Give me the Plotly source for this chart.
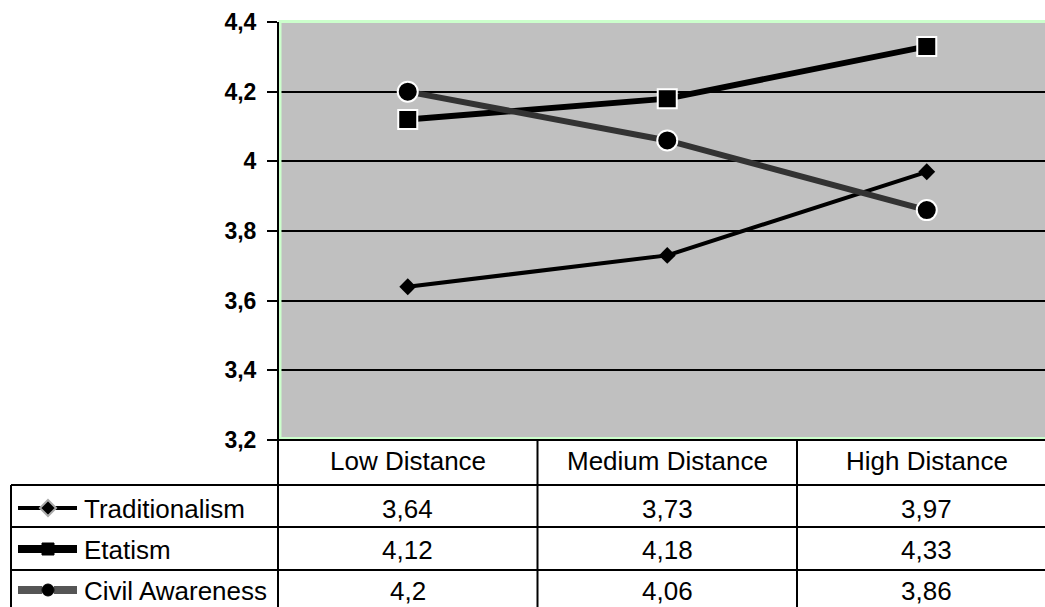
import plotly.graph_objects as go

# Data
categories = ["Low Distance", "Medium Distance", "High Distance"]
series_names = ["Traditionalism", "Etatism", "Civil Awareness"]
traditionalism = [3.64, 3.73, 3.97]
etatism = [4.12, 4.18, 4.33]
civil_awareness = [4.2, 4.06, 3.86]
y_ticks = [3.2, 3.4, 3.6, 3.8, 4.0, 4.2, 4.4]

W, H = 1045, 607
PLOT_L, PLOT_T, PLOT_B = 278, 22, 440
COL_W = 259.5


def fx(px):
    return px / W


def fy(py):
    return 1 - py / H


def fmt(v):
    s = ("%g" % v).replace(".", ",")
    return s


styles = [
    dict(line=dict(color="#000000", width=4),
         marker=dict(symbol="diamond", size=13, color="#000000", line=dict(width=0))),
    dict(line=dict(color="#000000", width=6),
         marker=dict(symbol="square", size=19, color="#000000", line=dict(color="#ffffff", width=2))),
    dict(line=dict(color="#333333", width=6),
         marker=dict(symbol="circle", size=20, color="#000000", line=dict(color="#ffffff", width=2))),
]

fig = go.Figure()
x_idx = list(range(len(categories)))
for name, vals, st in zip(series_names, [traditionalism, etatism, civil_awareness], styles):
    fig.add_trace(go.Scatter(
        x=x_idx, y=vals, name=name, mode="lines+markers",
        line=st["line"], marker=st["marker"], cliponaxis=False,
        showlegend=False,
    ))

x_max = -0.5 + (W - PLOT_L) / COL_W

shapes = []
# light green plot border
shapes.append(dict(type="rect", xref="paper", yref="paper",
                   x0=fx(PLOT_L + 2), x1=fx(W + 20), y0=fy(PLOT_B - 1.5), y1=fy(PLOT_T - 0.5),
                   line=dict(color="#CCFFCC", width=3), layer="above"))
# vertical axis line, extends down through the data table
shapes.append(dict(type="line", xref="paper", yref="paper",
                   x0=fx(PLOT_L), x1=fx(PLOT_L), y0=fy(PLOT_T), y1=fy(H + 5),
                   line=dict(color="#000000", width=2), layer="above"))
# table horizontal rules
shapes.append(dict(type="line", xref="paper", yref="paper",
                   x0=fx(PLOT_L), x1=fx(W + 5), y0=fy(PLOT_B), y1=fy(PLOT_B),
                   line=dict(color="#000000", width=2), layer="above"))
row_lines = [485, 527, 570]
for ry in row_lines:
    shapes.append(dict(type="line", xref="paper", yref="paper",
                       x0=fx(11), x1=fx(W + 5), y0=fy(ry), y1=fy(ry),
                       line=dict(color="#000000", width=2), layer="above"))
# left border of legend column
shapes.append(dict(type="line", xref="paper", yref="paper",
                   x0=fx(11), x1=fx(11), y0=fy(485), y1=fy(H + 5),
                   line=dict(color="#000000", width=2), layer="above"))
# column separators between categories
for i in range(len(categories) - 1):
    shapes.append(dict(type="line", xref="x", yref="paper",
                       x0=i + 0.5, x1=i + 0.5, y0=fy(PLOT_B), y1=fy(H + 5),
                       line=dict(color="#000000", width=2), layer="above"))

# legend glyphs in the table rows
row_centers = [508, 549, 590]
glyph_cx = 48
glyph_lines = [("#000000", 4), ("#000000", 8), ("#555555", 8)]
for r, (cy, (lc, lw)) in enumerate(zip(row_centers, glyph_lines)):
    for (a, b) in [(18, glyph_cx - 6), (glyph_cx + 6, 77)]:
        shapes.append(dict(type="line", xref="paper", yref="paper",
                           x0=fx(a), x1=fx(b), y0=fy(cy), y1=fy(cy),
                           line=dict(color=lc, width=lw), layer="above"))
# diamond
d = 8
shapes.append(dict(type="path", xref="paper", yref="paper",
                   path="M %f,%f L %f,%f L %f,%f L %f,%f Z" % (
                       fx(glyph_cx), fy(row_centers[0] - d), fx(glyph_cx + d), fy(row_centers[0]),
                       fx(glyph_cx), fy(row_centers[0] + d), fx(glyph_cx - d), fy(row_centers[0])),
                   fillcolor="#000000", line=dict(color="#AAAAAA", width=2), layer="above"))
# square
s = 6
shapes.append(dict(type="rect", xref="paper", yref="paper",
                   x0=fx(glyph_cx - s), x1=fx(glyph_cx + s), y0=fy(row_centers[1] + s), y1=fy(row_centers[1] - s),
                   fillcolor="#000000", line=dict(color="#000000", width=1), layer="above"))
# circle
c = 6
shapes.append(dict(type="circle", xref="paper", yref="paper",
                   x0=fx(glyph_cx - c), x1=fx(glyph_cx + c), y0=fy(row_centers[2] + c), y1=fy(row_centers[2] - c),
                   fillcolor="#000000", line=dict(color="#000000", width=1), layer="above"))

annotations = []
TFONT = dict(family="Liberation Sans, Arial, sans-serif", size=26, color="#000000")
# category headers
for i, cat in enumerate(categories):
    annotations.append(dict(x=i, y=fy(461), xref="x", yref="paper", text=cat,
                            showarrow=False, font=TFONT, xanchor="center", yanchor="middle"))
# series labels and values
for r, (name, vals) in enumerate(zip(series_names, [traditionalism, etatism, civil_awareness])):
    annotations.append(dict(x=fx(82), y=fy(row_centers[r] + 1), xref="paper", yref="paper", text=name,
                            showarrow=False, font=TFONT, xanchor="left", yanchor="middle"))
    for i, v in enumerate(vals):
        annotations.append(dict(x=i, y=fy(row_centers[r] + 1), xref="x", yref="paper", text=fmt(v),
                                showarrow=False, font=TFONT, xanchor="center", yanchor="middle"))

fig.update_layout(
    width=W, height=H,
    margin=dict(l=0, r=0, t=0, b=0, pad=0, autoexpand=False),
    paper_bgcolor="#ffffff",
    plot_bgcolor="#C0C0C0",
    separators=",.",
    shapes=shapes,
    annotations=annotations,
    showlegend=False,
    xaxis=dict(domain=[fx(PLOT_L), 1], range=[-0.5, x_max], showgrid=False, zeroline=False,
               showticklabels=False, ticks="", showline=False, fixedrange=True, automargin=False),
    yaxis=dict(domain=[fy(PLOT_B), fy(PLOT_T)], range=[3.2, 4.4], tickvals=y_ticks,
               ticktext=[fmt(v) for v in y_ticks],
               showgrid=True, gridcolor="#000000", gridwidth=2, zeroline=False,
               ticks="outside", ticklen=10, tickwidth=2, tickcolor="#000000",
               ticklabelstandoff=6, automargin=False,
               tickfont=dict(family="Liberation Sans, Arial, sans-serif", size=23, color="#000000", weight="bold"),
               showline=False, fixedrange=True),
)

fig.write_html("out.html")
